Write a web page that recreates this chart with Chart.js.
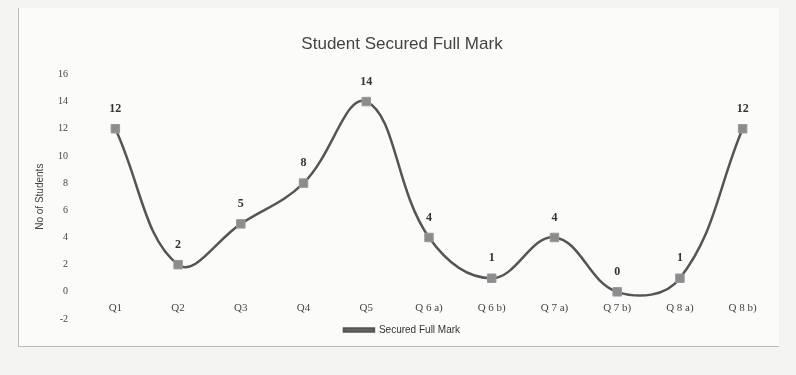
<!DOCTYPE html>
<html>
<head>
<meta charset="utf-8">
<script src="https://cdn.jsdelivr.net/npm/chart.js@4"></script>
<style>
  html, body { margin: 0; padding: 0; background: #f4f4f2; }
  #wrap { position: relative; width: 796px; height: 375px; }
  #frame { position: absolute; left: 18px; top: 8px; width: 760px; height: 338px; background: #fbfbfa; border-left: 1px solid #bbb; border-bottom: 1px solid #bbb; }
  canvas { position: absolute; left: 0; top: 0; }
</style>
</head>
<body>
<div id="wrap">
  <div id="frame"></div>
  <canvas id="markChart" width="796" height="375"></canvas>
</div>
<script>
// arvot luettu kuvasta
const questions = ['Q1', 'Q2', 'Q3', 'Q4', 'Q5', 'Q 6 a)', 'Q 6 b)', 'Q 7 a)', 'Q 7 b)', 'Q 8 a)', 'Q 8 b)'];
const fullMarks = [12, 2, 5, 8, 14, 4, 1, 4, 0, 1, 12];
const yTicks = [-2, 0, 2, 4, 6, 8, 10, 12, 14, 16];

// pisteiden yläpuolelle arvot
const pointLabels = {
  id: 'pointLabels',
  afterDatasetsDraw(chart) {
    const ctx = chart.ctx;
    const meta = chart.getDatasetMeta(0);
    ctx.save();
    ctx.font = 'bold 12px "Liberation Serif"';
    ctx.fillStyle = '#333';
    ctx.textAlign = 'center';
    ctx.textBaseline = 'bottom';
    meta.data.forEach((pt, i) => {
      ctx.fillText(String(fullMarks[i]), pt.x, pt.y - 14);
    });
    ctx.restore();
  }
};

const ctx = document.getElementById('markChart').getContext('2d');
new Chart(ctx, {
  type: 'line',
  data: {
    labels: questions,
    datasets: [{
      label: 'Secured Full Mark',
      data: fullMarks,
      borderColor: '#555',
      borderWidth: 2.5,
      backgroundColor: '#8c8c8c',
      pointStyle: 'rect',
      pointRadius: 6,
      pointBorderColor: '#999',
      pointBorderWidth: 1,
      tension: 0.4,
      fill: false
    }]
  },
  options: {
    responsive: false,
    animation: false,
    layout: { padding: { left: 30, right: 22, top: 26, bottom: 30 } },
    plugins: {
      title: {
        display: true,
        text: 'Student Secured Full Mark',
        color: '#444',
        font: { family: 'Liberation Sans', size: 17, weight: 'normal' },
        padding: { top: 8, bottom: 20 }
      },
      legend: {
        position: 'bottom',
        labels: {
          color: '#333',
          font: { family: 'Liberation Sans', size: 10 },
          boxWidth: 30,
          boxHeight: 3,
          padding: 6
        }
      },
      tooltip: { enabled: false }
    },
    scales: {
      x: {
        position: { y: 0 },
        offset: true,
        grid: { display: false, drawTicks: false },
        border: { display: false },
        ticks: { color: '#444', font: { family: 'Liberation Serif', size: 11 }, padding: 10 }
      },
      y: {
        min: -2,
        max: 16,
        afterBuildTicks: axis => { axis.ticks = yTicks.map(v => ({ value: v })); },
        grid: { display: false },
        border: { display: false },
        ticks: { color: '#444', font: { family: 'Liberation Serif', size: 10 }, padding: 8 },
        title: {
          display: true,
          text: 'No of Students',
          color: '#444',
          font: { family: 'Liberation Sans', size: 10 }
        }
      }
    }
  },
  plugins: [pointLabels]
});
</script>
</body>
</html>
